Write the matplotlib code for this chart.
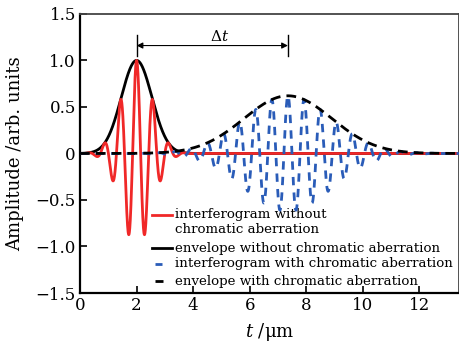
import numpy as np
import matplotlib
matplotlib.use('Agg')
import matplotlib.pyplot as plt

# pulse parameters: [without CA, with CA]
centers = [2.0, 7.35]      # um
amplitudes = [1.0, 0.62]
widths = [0.54, 1.55]      # gaussian sigma, um
fringe_periods = [0.57, 0.57]

labels = ['interferogram without\nchromatic aberration',
          'envelope without chromatic aberration',
          'interferogram with chromatic aberration',
          'envelope with chromatic aberration']
xticks = [0, 2, 4, 6, 8, 10, 12]
yticks = [-1.5, -1.0, -0.5, 0, 0.5, 1.0, 1.5]
ytick_labels = ['\u22121.5', '\u22121.0', '\u22120.5', '0', '0.5', '1.0', '1.5']

plt.rcParams['font.family'] = ['DejaVu Serif']
plt.rcParams['mathtext.fontset'] = 'dejavuserif'

RED = '#f02828'
BLUE = '#2a5cb8'

t = np.linspace(0, 13.4, 4000)
env = [a * np.exp(-(t - c) ** 2 / (2 * s ** 2)) for c, a, s in zip(centers, amplitudes, widths)]
sig = [e * np.cos(2 * np.pi * (t - c) / p) for e, c, p in zip(env, centers, fringe_periods)]

fig = plt.figure(figsize=(4.6, 3.48), dpi=100)
ax = fig.add_axes([0.174, 0.158, 0.824, 0.802])

ax.plot(t, env[0], color='black', lw=2.0, zorder=2)
ax.plot(t, sig[0], color=RED, lw=2.0, zorder=3)
ax.plot(t, sig[1], color=BLUE, lw=2.0, dashes=(3.0, 2.6), zorder=4)
ax.plot(t, env[1], color='black', lw=2.0, dashes=(3.5, 2.2), zorder=5)

# delta t marker
y_arrow = 1.16
ax.plot([centers[0]] * 2, [1.05, 1.27], color='black', lw=1)
ax.plot([centers[1]] * 2, [1.05, 1.27], color='black', lw=1)
ax.annotate('', xy=(centers[1], y_arrow), xytext=(centers[0], y_arrow),
            arrowprops=dict(arrowstyle='<|-|>', color='black', lw=0.8,
                            mutation_scale=9, shrinkA=0, shrinkB=0))
ax.text(4.93, 1.18, '\u0394$t$', ha='center', va='bottom', fontsize=11)

ax.set_xlim(0, 13.4)
ax.set_ylim(-1.5, 1.5)
ax.set_xticks(xticks)
ax.set_yticks(yticks)
ax.set_yticklabels(ytick_labels)
ax.tick_params(direction='in', length=5, width=1.2, labelsize=12,
               top=False, right=False, pad=3)
for side in ['left', 'bottom']:
    ax.spines[side].set_linewidth(1.6)
for side in ['top', 'right']:
    ax.spines[side].set_linewidth(1.3)
    ax.spines[side].set_color('#444444')

ax.set_xlabel('$t$ /\u03bcm', fontsize=13, labelpad=5)
ax.set_ylabel('Amplitude /arb. units', fontsize=13, labelpad=8)

# legend drawn by hand so the red key sits on the first line of its label
tr = ax.transAxes
rows = [0.278, 0.161, 0.104, 0.043]
ax.plot([0.190, 0.243], [rows[0]] * 2, color=RED, lw=2.0, transform=tr, clip_on=False)
ax.plot([0.190, 0.243], [rows[1]] * 2, color='black', lw=2.0, transform=tr, clip_on=False)
ax.plot([0.198, 0.216], [rows[2]] * 2, color=BLUE, lw=2.0, transform=tr,
        clip_on=False, solid_capstyle='butt')
ax.plot([0.198, 0.218], [rows[3]] * 2, color='black', lw=2.0, transform=tr,
        clip_on=False, solid_capstyle='butt')
ax.text(0.251, rows[0] + 0.027, labels[0], transform=tr, fontsize=9.6,
        ha='left', va='top', linespacing=1.2)
for lab, y in zip(labels[1:], rows[1:]):
    ax.text(0.251, y, lab, transform=tr, fontsize=9.6, ha='left', va='center')

fig.savefig('out.png', dpi=100)
